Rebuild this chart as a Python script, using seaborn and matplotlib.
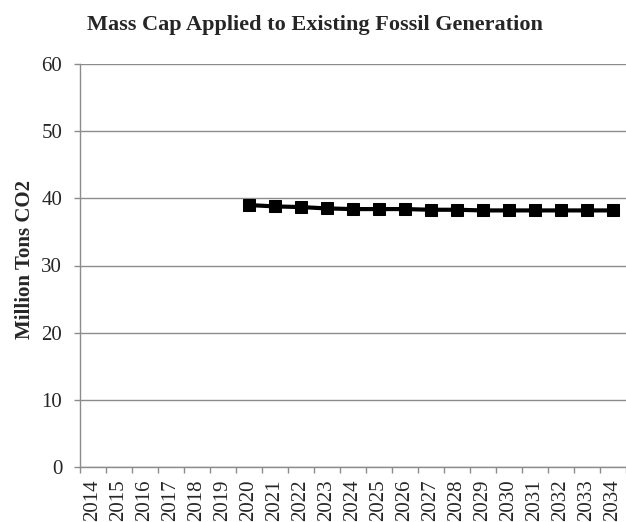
import matplotlib
matplotlib.use("Agg")
import matplotlib.pyplot as plt
import numpy as np
import pandas as pd
import seaborn as sns

# Data
years = [str(y) for y in range(2014, 2035)]
cap_years = [str(y) for y in range(2020, 2035)]
cap_values = [39.0, 38.8, 38.7, 38.5, 38.4, 38.4, 38.4, 38.3, 38.3,
              38.2, 38.2, 38.2, 38.2, 38.2, 38.2]

sns.set_theme(style="white")
plt.rcParams["font.family"] = ["Liberation Serif", "DejaVu Serif"]

df = pd.DataFrame({
    "pos": [years.index(y) for y in cap_years],
    "value": cap_values,
})

fig = plt.figure(figsize=(6.26, 5.22), dpi=100)
ax = fig.add_axes([79.5 / 626, 55 / 522, (626 - 79.5) / 626, (467 - 64) / 522])

grid_c = "#8c8c8c"
ax.set_ylim(0, 60)
ax.set_yticks(np.arange(0, 61, 10))
ax.yaxis.grid(True, color=grid_c, linewidth=1)
ax.set_axisbelow(True)

sns.lineplot(data=df, x="pos", y="value", ax=ax, color="black", linewidth=3,
             marker="s", markersize=8.5, markeredgecolor="black")

ax.set_xlim(-0.5, len(years) - 0.5)
ax.set_xticks(range(len(years)))
ax.set_xticklabels(years, rotation=90, fontsize=15)
ax.set_xticks(np.arange(-0.5, len(years), 1), minor=True)
ax.tick_params(axis="x", which="major", length=0, pad=9)
ax.tick_params(axis="x", which="minor", length=4, color=grid_c, width=1,
               direction="out", bottom=True)
ax.tick_params(axis="y", length=4.5, color=grid_c, width=1, direction="out",
               left=True, labelsize=15, pad=8)

for side in ["top", "right"]:
    ax.spines[side].set_visible(False)
for side in ["left", "bottom"]:
    ax.spines[side].set_color(grid_c)
    ax.spines[side].set_linewidth(1)

ax.set_xlabel("")
ax.set_ylabel("Million Tons CO2", fontsize=15, fontweight="bold")
ax.yaxis.set_label_coords(-0.1, 0.516)
ax.yaxis.label.set_va("center")
fig.text(315 / 626, 1 - 25 / 522, "Mass Cap Applied to Existing Fossil Generation",
         ha="center", va="center", fontsize=16, fontweight="bold")

fig.savefig("out.png", dpi=100)
